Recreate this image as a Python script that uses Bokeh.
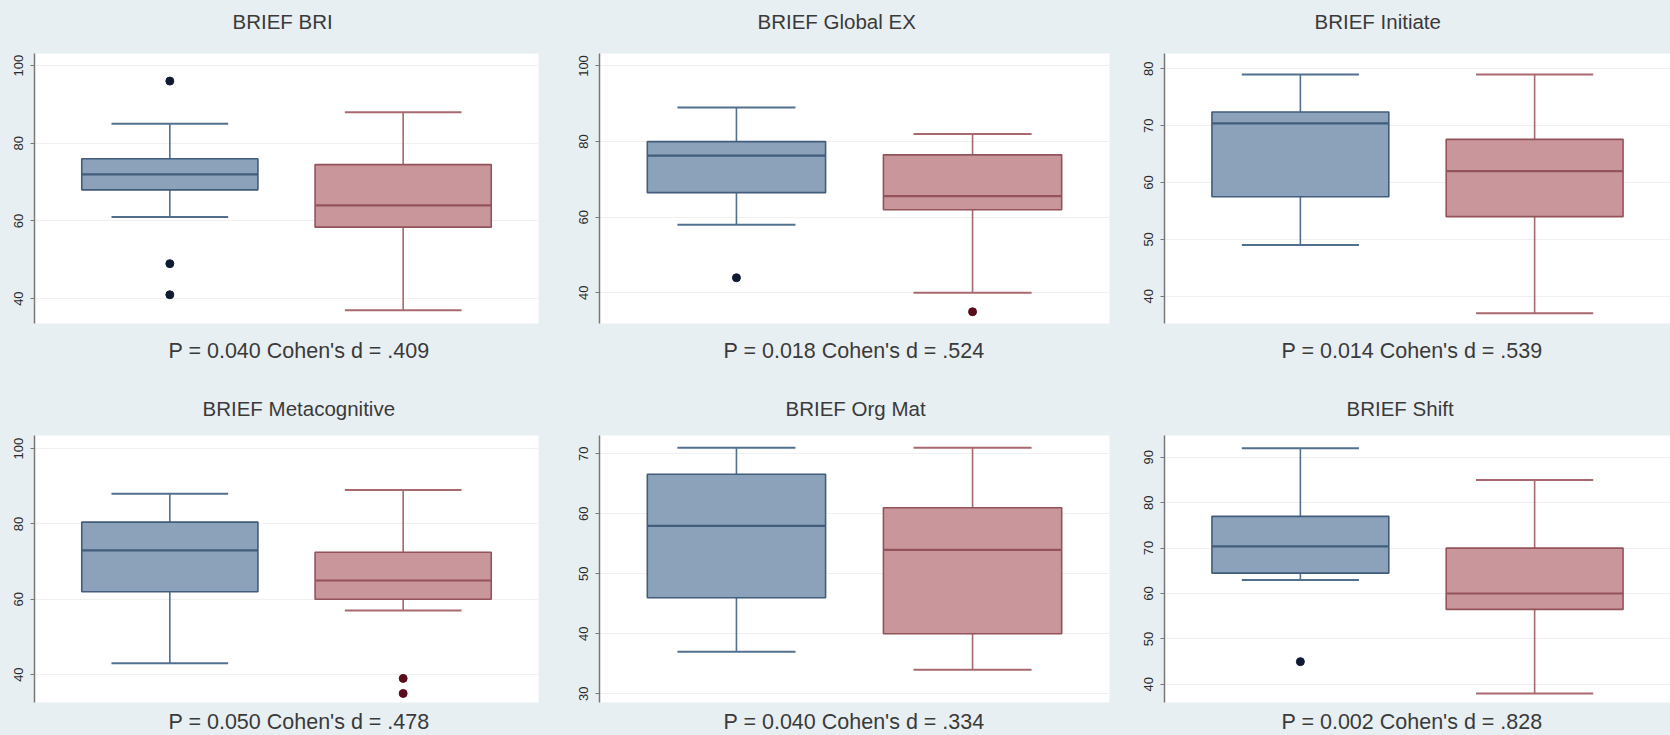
from bokeh.plotting import figure
from bokeh.layouts import column, row
from bokeh.models import Range1d, Title, FixedTicker
from bokeh.embed import file_html
from bokeh.resources import INLINE

# ---- data -------------------------------------------------------------
titles = ["BRIEF BRI", "BRIEF Global EX", "BRIEF Initiate",
          "BRIEF Metacognitive", "BRIEF Org Mat", "BRIEF Shift"]
notes = ["P = 0.040 Cohen's d = .409", "P = 0.018 Cohen's d = .524",
         "P = 0.014 Cohen's d = .539", "P = 0.050 Cohen's d = .478",
         "P = 0.040 Cohen's d = .334", "P = 0.002 Cohen's d = .828"]

# per measure: [group 1, group 2]
lower_whisker = [[61, 37], [58, 40], [49, 37], [43, 57], [37, 34], [63, 38]]
q1 = [[68, 58.4], [66.5, 62], [57.5, 54], [62, 60], [46, 40], [64.5, 56.5]]
median = [[72, 64], [76.3, 65.6], [70.4, 62], [73, 65], [58, 54], [70.4, 60]]
q3 = [[76, 74.5], [80, 76.5], [72.4, 67.6], [80.5, 72.5], [66.6, 61], [77, 70]]
upper_whisker = [[85, 88], [89, 82], [79, 79], [88, 89], [71, 71], [92, 85]]
outliers = [[[96, 49, 41], []], [[44], [35]], [[], []],
            [[], [39, 35]], [[], []], [[45], []]]

# axis settings per panel
y_limits = [(33.6, 103.1), (31.9, 103.3), (35.2, 82.7),
            (32.6, 103.5), (28.55, 73.05), (36.0, 94.8)]
y_ticks = [[40, 60, 80, 100], [40, 60, 80, 100], [40, 50, 60, 70, 80],
           [40, 60, 80, 100], [30, 40, 50, 60, 70], [40, 50, 60, 70, 80, 90]]

# ---- style ------------------------------------------------------------
BG = "#e8eff2"
FILL = ["#8ba2ba", "#c9979b"]
EDGE = ["#52708e", "#a8686f"]
MED = ["#415d7b", "#94535b"]
DOT = ["#101b33", "#5a0d1c"]
TEXT = "#3a3a3a"
FONT = "Liberation Sans"

# column geometry: (border left, frame width, border right)
cols = [(34, 504, 30), (31, 510, 27), (28, 506, 0)]
# row geometry: (border top, frame height, border bottom,
#                gap above title, gap below note)
rows_geo = [(53, 270, 44, 18.2, 10.1), (68, 267, 33, 13.2, 1.5)]
# left edge of each title / note, measured from the frame's left side
title_left = [198, 158, 150, 168, 186, 182]
note_left = [134, 124, 117, 134, 124, 117]

X_LO, X_HI = -0.58, 1.58
BOX_W = 0.755
CAP_W = 0.5


def spacer(gap):
    # background-coloured filler that keeps the text away from the frame
    return Title(text=".", text_font_size="1px", text_color=BG, standoff=gap)


def panel(i):
    r, c = divmod(i, 3)
    bl, fw, br = cols[c]
    bt, fh, bb, t_gap, n_gap = rows_geo[r]
    lo, hi = y_limits[i]
    p = figure(frame_width=fw, frame_height=fh,
               min_border_left=bl, min_border_right=br,
               min_border_top=bt, min_border_bottom=bb,
               x_range=Range1d(X_LO, X_HI), y_range=Range1d(lo, hi),
               x_axis_location=None, toolbar_location=None,
               output_backend="svg", title=None,
               background_fill_color="white", border_fill_color=BG,
               outline_line_color=None)

    # panel heading, with a spacer between it and the frame
    p.add_layout(spacer(t_gap), "above")
    p.add_layout(Title(text=titles[i], align="left", offset=title_left[i],
                       standoff=0, text_font=FONT, text_font_size="20.5px",
                       text_font_style="normal", text_color=TEXT), "above")
    # test statistics under each panel
    p.add_layout(spacer(n_gap), "below")
    p.add_layout(Title(text=notes[i], align="left", offset=note_left[i],
                       standoff=0, text_font=FONT, text_font_size="21.5px",
                       text_font_style="normal", text_color=TEXT), "below")

    ax = p.yaxis[0]
    ax.ticker = FixedTicker(ticks=y_ticks[i])
    ax.major_label_orientation = "vertical"
    ax.major_label_text_font = FONT
    ax.major_label_text_font_size = "13px"
    ax.major_label_text_color = "#2a2a2a"
    ax.major_label_standoff = 7
    ax.axis_line_color = "#777777"
    ax.axis_line_width = 1.5
    ax.major_tick_line_color = "#777777"
    ax.major_tick_out = 4
    ax.major_tick_in = 0
    ax.minor_tick_line_color = None
    p.ygrid.grid_line_color = "#f0f0f0"
    p.xgrid.visible = False

    xs = [0, 1]
    for g in range(2):
        x = xs[g]
        # whiskers
        p.segment(x0=[x, x], x1=[x, x],
                  y0=[q3[i][g], q1[i][g]],
                  y1=[upper_whisker[i][g], lower_whisker[i][g]],
                  line_color=EDGE[g], line_width=1.6)
        p.segment(x0=[x - CAP_W / 2] * 2, x1=[x + CAP_W / 2] * 2,
                  y0=[upper_whisker[i][g], lower_whisker[i][g]],
                  y1=[upper_whisker[i][g], lower_whisker[i][g]],
                  line_color=EDGE[g], line_width=2)
        # box
        p.vbar(x=[x], width=BOX_W, bottom=[q1[i][g]], top=[q3[i][g]],
               fill_color=FILL[g], line_color=MED[g], line_width=1.6)
        p.segment(x0=[x - BOX_W / 2], x1=[x + BOX_W / 2],
                  y0=[median[i][g]], y1=[median[i][g]],
                  line_color=MED[g], line_width=2.2)
        # outside values
        pts = outliers[i][g]
        if pts:
            p.scatter(x=[x] * len(pts), y=pts, size=8,
                      fill_color=DOT[g], line_color=DOT[g])
    return p


plots = [panel(i) for i in range(6)]
layout = column(row(*plots[:3]), row(*plots[3:]))
layout.styles = {"background-color": BG}

open("out.html", "w").write(file_html(layout, INLINE))
